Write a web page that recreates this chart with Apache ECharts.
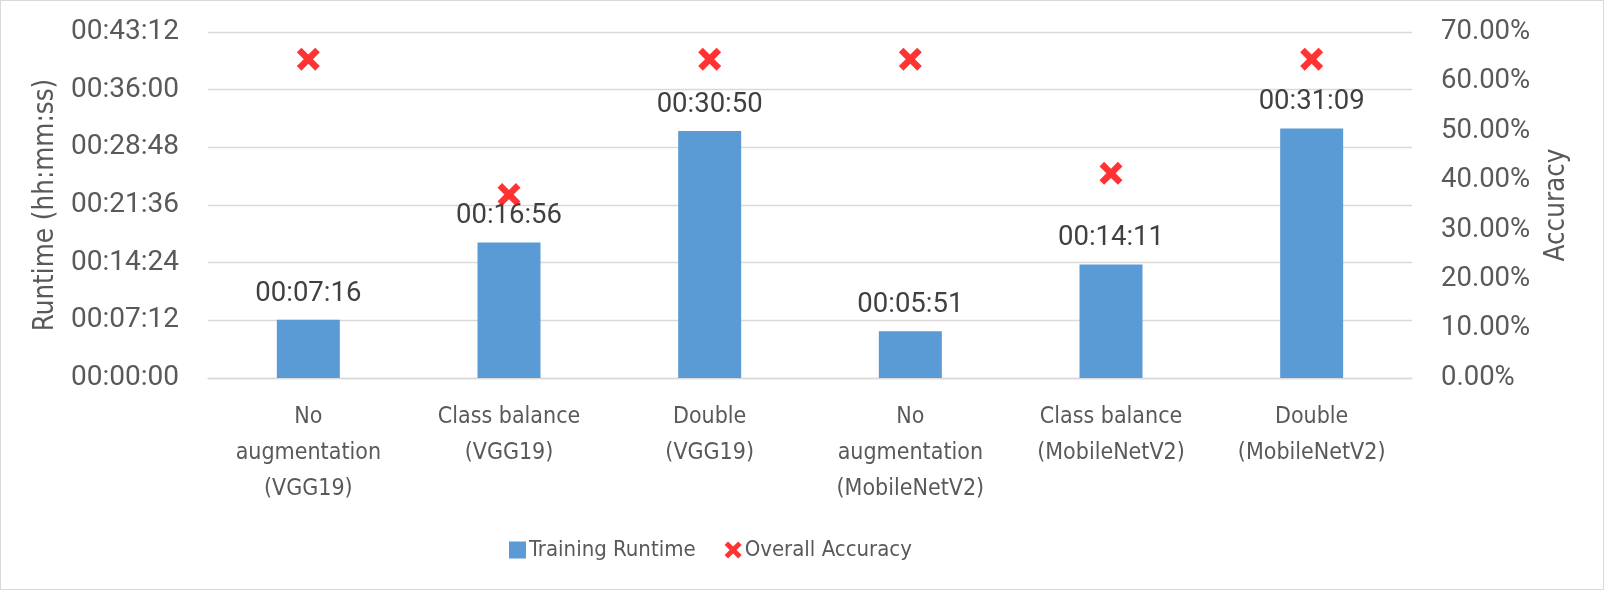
<!DOCTYPE html>
<html>
<head>
<meta charset="utf-8">
<script src="https://cdn.jsdelivr.net/npm/echarts@6/dist/echarts.min.js"></script>
<style>
html,body{margin:0;padding:0;background:#fff;}
#c{width:1604px;height:590px;box-sizing:border-box;border:1px solid #d9d9d9;}
</style>
</head>
<body>
<div id="c"></div>
<script>
const categories = [
  "No\naugmentation\n(VGG19)",
  "Class balance\n(VGG19)",
  "Double\n(VGG19)",
  "No\naugmentation\n(MobileNetV2)",
  "Class balance\n(MobileNetV2)",
  "Double\n(MobileNetV2)"
];
// runtime in seconds
const runtimeSeconds = [436, 1016, 1850, 351, 851, 1869];
const accuracy = [0.645, 0.371, 0.645, 0.645, 0.414, 0.645];
const seriesNames = ["Training Runtime", "Overall Accuracy"];

const numFont = "Roboto";
const txtFont = "'DejaVu Sans Condensed', sans-serif";
const XPATH = 'path://M0,2 L2,0 L5,3 L8,0 L10,2 L7,5 L10,8 L8,10 L5,7 L2,10 L0,8 L3,5 Z';

function hms(s) {
  const h = Math.floor(s / 3600), m = Math.floor((s % 3600) / 60), sec = Math.round(s % 60);
  const p = n => String(n).padStart(2, '0');
  return p(h) + ':' + p(m) + ':' + p(sec);
}

const chart = echarts.init(document.getElementById('c'));
chart.setOption({
  animation: false,
  grid: { left: 207, right: 191, top: 31, bottom: 211, containLabel: false },
  legend: {
    left: 508, top: 538, padding: 0,
    itemGap: 29, itemWidth: 17, itemHeight: 17,
    textStyle: { fontFamily: txtFont, fontSize: 22, color: '#595959', padding: [0,0,0,-2] },
    data: [
      { name: seriesNames[0], icon: 'rect' },
      { name: seriesNames[1], icon: XPATH }
    ]
  },
  xAxis: {
    type: 'category',
    data: categories,
    axisLine: { show: true, lineStyle: { color: '#d9d9d9', width: 1.3 } },
    axisTick: { show: false },
    axisLabel: {
      interval: 0, margin: 21,
      fontFamily: txtFont, fontSize: 23, lineHeight: 36, color: '#595959'
    }
  },
  yAxis: [
    {
      type: 'value', min: 0, max: 2592, interval: 432,
      name: 'Runtime (hh:mm:ss)', nameLocation: 'middle', nameGap: 145, nameRotate: 90,
      nameTextStyle: { fontFamily: txtFont, fontSize: 27.5, color: '#595959' },
      axisLine: { show: false }, axisTick: { show: false },
      axisLabel: { margin: 29, fontFamily: numFont, fontSize: 28, color: '#595959', formatter: v => hms(v) },
      splitLine: { lineStyle: { color: '#d9d9d9', width: 1.3 } }
    },
    {
      type: 'value', min: 0, max: 0.7, interval: 0.1,
      name: 'Accuracy', nameLocation: 'middle', nameGap: 131, nameRotate: 90,
      nameTextStyle: { fontFamily: txtFont, fontSize: 27.5, color: '#595959' },
      axisLine: { show: false }, axisTick: { show: false },
      axisLabel: { margin: 29, fontFamily: numFont, fontSize: 27.5, color: '#595959', formatter: v => (v * 100).toFixed(2) + '%' },
      splitLine: { show: false }
    }
  ],
  series: [
    {
      name: seriesNames[0], type: 'bar', yAxisIndex: 0, data: runtimeSeconds,
      barWidth: 63,
      itemStyle: { color: '#5B9BD5' },
      label: {
        show: true, position: 'top', distance: 12,
        fontFamily: numFont, fontSize: 27.5, color: '#404040',
        formatter: p => hms(p.value)
      }
    },
    {
      name: seriesNames[1], type: 'scatter', yAxisIndex: 1, data: accuracy,
      symbol: XPATH, symbolSize: 23,
      itemStyle: { color: '#FF0000' }
    }
  ]
});
</script>
</body>
</html>
